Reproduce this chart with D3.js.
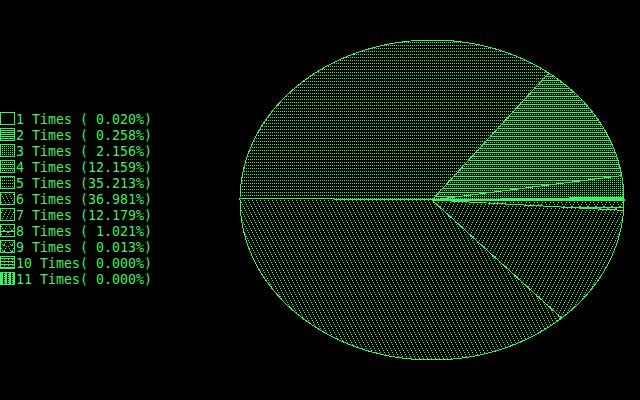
<!DOCTYPE html>
<html><head><meta charset="utf-8">
<script src="https://cdn.jsdelivr.net/npm/d3@7"></script>
<style>html,body{margin:0;padding:0;background:#000;}svg{display:block;}</style>
</head><body>
<script>
const categories = ["1 Times","2 Times","3 Times","4 Times","5 Times","6 Times","7 Times","8 Times","9 Times","10 Times","11 Times"];
const percents = [0.020,0.258,2.156,12.159,35.213,36.981,12.179,1.021,0.013,0.000,0.000];
const percentLabels = ["( 0.020%)","( 0.258%)","( 2.156%)","(12.159%)","(35.213%)","(36.981%)","(12.179%)","( 1.021%)","( 0.013%)","( 0.000%)","( 0.000%)"];

const W = 640, H = 400, G = "#40f060";
const svg = d3.select("body").append("svg").attr("width", W).attr("height", H)
  .style("background", "#000");
const defs = svg.append("defs");

// pattern tiles: [w, h, list of [x,y,w,h] rects]
const pats = [
  [2,2,[]],
  [1,2,[[0,0,1,1]]],
  [2,2,[[0,0,1,1]]],
  [2,4,[[0,0,2,1],[0,2,1,1]]],
  [2,3,[[0,0,1,1]]],
  [4,8,[[0,0,1,1],[1,2,1,1],[2,4,1,1],[3,6,1,1]]],
  [4,8,[[3,0,1,1],[2,2,1,1],[1,4,1,1],[0,6,1,1]]],
  [8,8,[[0,0,1,1],[1,2,1,1],[2,4,1,1],[3,6,1,1],[7,0,1,1],[6,2,1,1],[5,4,1,1],[4,6,1,1],[0,7,8,1]]],
  [8,6,[[0,0,1,1],[1,2,1,1],[2,4,1,1],[6,0,1,1],[5,2,1,1],[4,4,1,1],[3,5,2,1]]],
  [4,3,[[0,0,4,1],[0,1,1,1]]],
  [4,2,[[0,0,3,1],[1,1,2,1]]]
];
pats.forEach((p, i) => {
  const pt = defs.append("pattern").attr("id", "p" + i)
    .attr("patternUnits", "userSpaceOnUse").attr("width", p[0]).attr("height", p[1]);
  pt.append("rect").attr("width", p[0]).attr("height", p[1]).attr("fill", "#000");
  p[2].forEach(r => pt.append("rect").attr("x", r[0]).attr("y", r[1])
    .attr("width", r[2]).attr("height", r[3]).attr("fill", G).attr("shape-rendering", "crispEdges"));
});

// Pie
const cx = 432, cy = 200, rx = 192, ry = 160;
const pie = d3.pie().sort(null).value(d => d)
  .startAngle(Math.PI / 2).endAngle(Math.PI / 2 - 2 * Math.PI);
const arcs = pie(percents);
const line = d3.line().curve(d3.curveLinearClosed);
function slicePts(a) {
  const n = Math.max(2, Math.ceil(Math.abs(a.endAngle - a.startAngle) / 0.01));
  const pts = [[cx, cy]];
  for (let k = 0; k <= n; k++) {
    const t = a.startAngle + (a.endAngle - a.startAngle) * k / n;
    pts.push([cx + rx * Math.sin(t), cy - ry * Math.cos(t)]);
  }
  return pts;
}
svg.append("g").selectAll("path").data(arcs.filter(a => a.value > 0)).join("path")
  .attr("d", a => line(slicePts(a)))
  .attr("fill", (a) => "url(#p" + a.index + ")")
  .attr("stroke", G).attr("stroke-width", 1)
  .attr("shape-rendering", "crispEdges");

// Legend
const leg = svg.append("g");
const rowY = i => 112 + i * 16;
categories.forEach((c, i) => {
  leg.append("rect").attr("x", 0.5).attr("y", rowY(i) + 0.5).attr("width", 14).attr("height", 12)
    .attr("fill", "url(#p" + i + ")").attr("stroke", G).attr("shape-rendering", "crispEdges");
  const txt = c.length > 7 ? c + percentLabels[i] : c + " " + percentLabels[i];
  leg.append("text").attr("x", 16).attr("y", rowY(i) + 12)
    .attr("font-family", "DejaVu Sans Mono").attr("font-size", 13.5)
    .attr("fill", G)
    .attr("textLength", txt.length * 8).attr("lengthAdjust", "spacingAndGlyphs")
    .style("white-space", "pre").attr("xml:space", "preserve")
    .text(txt);
});
</script>
</body></html>
